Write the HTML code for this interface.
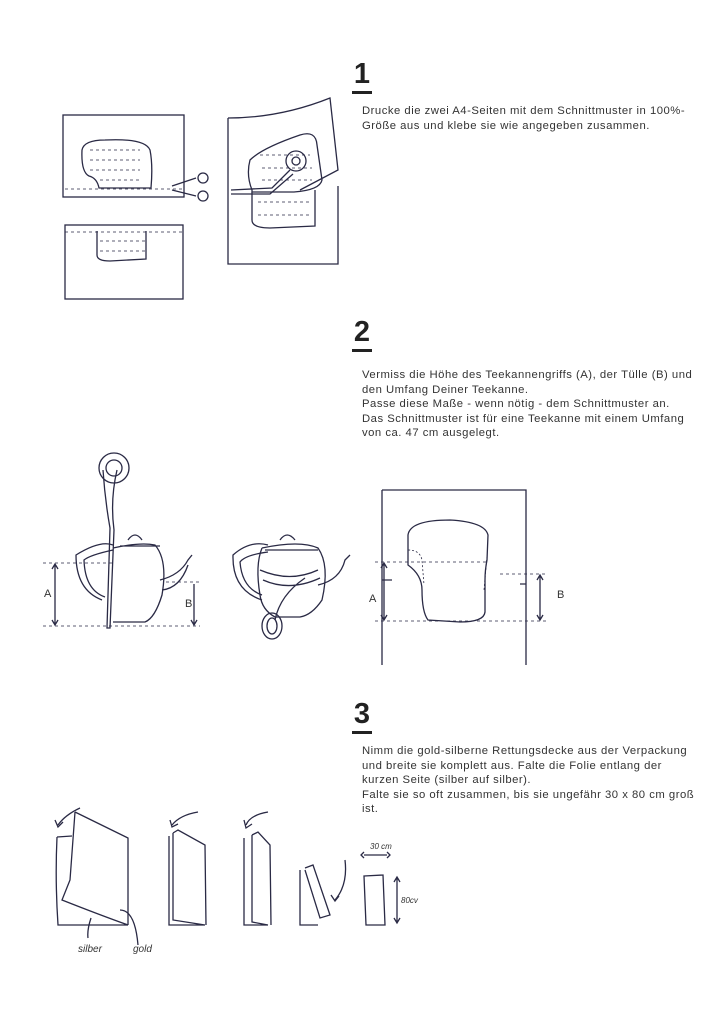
<!DOCTYPE html>
<html><head><meta charset="utf-8"><style>
body{margin:0;background:#fff;width:724px;height:1024px;position:relative;overflow:hidden;font-family:"Liberation Sans",sans-serif;color:#222}
.h{position:absolute;font-weight:bold;font-size:29px;line-height:29px;border-bottom:3px solid #222;padding-bottom:2px;width:20px;text-align:center}
.t{position:absolute;left:362px;font-size:11.3px;line-height:14.5px;width:360px;color:#333;letter-spacing:0.5px;white-space:nowrap}
svg{position:absolute;left:0;top:0}
</style></head><body>
<div class="h" style="left:352px;top:60px">1</div>
<div class="t" style="top:104px">Drucke die zwei A4-Seiten mit dem Schnittmuster in 100%-<br>Größe aus und klebe sie wie angegeben zusammen.</div>
<div class="h" style="left:352px;top:318px">2</div>
<div class="t" style="top:368px">Vermiss die Höhe des Teekannengriffs (A), der Tülle (B) und<br>den Umfang Deiner Teekanne.<br>Passe diese Maße - wenn nötig - dem Schnittmuster an.<br>Das Schnittmuster ist für eine Teekanne mit einem Umfang<br>von ca. 47 cm ausgelegt.</div>
<div class="h" style="left:352px;top:700px">3</div>
<div class="t" style="top:744px">Nimm die gold-silberne Rettungsdecke aus der Verpackung<br>und breite sie komplett aus.  Falte die Folie entlang der<br>kurzen Seite (silber auf silber).<br>Falte sie so oft zusammen, bis sie ungefähr 30 x 80 cm groß<br>ist.</div>
<svg width="724" height="1024" fill="none" stroke="#2a2a45" stroke-width="1.3" font-family="Liberation Sans, sans-serif">
<!-- section 1 -->
<rect x="63" y="115" width="121" height="82"/>
<path d="M89 176 Q81 172 82 150 Q84 140 105 140 Q145 138 150 150 Q153 165 151 188 L99 188 Q97 178 89 176Z"/>
<g stroke-dasharray="3,3" stroke-width="0.8"><path d="M90 150H140M90 160H140M90 170H140M100 180H140M65 189H184"/></g>
<path d="M172 186 L196 178 M172 190 L196 196"/><circle cx="203" cy="178" r="5"/><circle cx="203" cy="196" r="5"/>
<rect x="65" y="225" width="118" height="74"/>
<path d="M97 231 V255 Q97 261 110 261 L146 259 V231"/>
<g stroke-dasharray="3,3" stroke-width="0.8"><path d="M65 232H183M100 241H145M100 251H145"/></g>
<path d="M228 118 Q280 118 330 98 L338 170 L300 190 M228 118 V264 H338 V186"/>
<path d="M252 190 Q246 175 250 160 Q262 148 300 135 Q316 130 317 145 L322 180 Q320 190 294 192 L252 192Z"/>
<path d="M252 192 V220 Q252 228 270 228 L315 226 V190"/>
<circle cx="296" cy="161" r="10"/><circle cx="296" cy="161" r="4"/>
<path d="M231 190 L272 188 L290 170 M231 194 L270 194 L293 174"/>
<g stroke-dasharray="3,3" stroke-width="0.8"><path d="M260 155H310M262 168H312M262 180H312M258 202H312M258 215H312"/></g>
<!-- section 2 teapot 1 -->
<path d="M103 470 Q105 500 110 528 L107 628 L110 628 L114 530 Q110 500 117 470"/>
<circle cx="114" cy="468" r="15"/><circle cx="114" cy="468" r="8"/>
<path d="M113 545 Q100 540 76 555 Q76 590 102 600 M113 550 Q90 555 84 560 Q85 590 105 597"/>
<path d="M113 548 Q140 542 155 545 Q168 560 162 595 Q155 618 145 622 L113 622 M120 546 L160 546 M128 540 Q135 530 142 540"/>
<path d="M160 580 Q180 575 188 560 L192 555 M162 590 Q180 588 188 565"/>
<path d="M43 563 H113 M43 626 H200 M166 582 H200" stroke-dasharray="3,3" stroke-width="0.8"/>
<path d="M55 565 V624 M52 569 L55 564 L58 569 M52 620 L55 625 L58 620 M194 584 V624 M191 620 L194 625 L197 620"/>
<text x="44" y="597" font-size="11" fill="#333" stroke="none">A</text>
<text x="185" y="607" font-size="11" fill="#333" stroke="none">B</text>
<!-- teapot 2 -->
<path d="M268 545 Q250 540 233 555 Q232 590 262 600 M268 552 Q245 555 240 562 Q242 588 262 595"/>
<path d="M262 548 Q300 540 318 548 Q330 565 322 600 Q312 615 300 617 L275 617 Q262 610 260 595 Q255 565 262 548 M280 540 Q287 530 295 540 M265 550 H318"/>
<path d="M318 585 Q340 580 345 560 L350 555"/>
<path d="M260 570 Q290 583 318 570 M263 580 Q290 592 320 578 M305 578 Q280 595 275 620"/>
<ellipse cx="272" cy="626" rx="10" ry="13"/><ellipse cx="272" cy="626" rx="5" ry="8"/>
<!-- pattern sheet -->
<path d="M382 490 H526 V665 M382 490 V665"/>
<path d="M408 535 Q410 520 450 520 Q485 522 488 535 L487 560 Q485 570 485 580 L485 612 Q484 622 460 622 L428 620 Q422 612 422 590 Q422 575 408 565Z"/>
<path d="M408 550 Q420 550 422 560 L424 585 M487 556 L484 590" stroke-dasharray="2,2" stroke-width="0.8"/>
<path d="M375 562 H488 M500 574 H548 M375 621 H548" stroke-dasharray="3,3" stroke-width="0.8"/>
<path d="M382 580 H392 M526 584 H520"/>
<path d="M384 564 V619 M381 568 L384 563 L387 568 M381 615 L384 620 L387 615 M540 576 V619 M537 580 L540 575 L543 580 M537 615 L540 620 L543 615"/>
<text x="369" y="602" font-size="11" fill="#333" stroke="none">A</text>
<text x="557" y="598" font-size="11" fill="#333" stroke="none">B</text>
<!-- section 3 -->
<path d="M57 837 L72 836 M57 837 Q55 880 58 925 L128 925 M75 812 L128 838 V925 M75 812 L70 880 L62 900 Q100 915 128 925"/>
<path d="M80 808 Q65 815 58 825 M55 820 L58 827 L63 822"/>
<path d="M91 918 Q87 930 88 938 M120 910 Q135 910 138 945"/>
<text x="78" y="952" font-size="10" font-style="italic" fill="#333" stroke="none">silber</text>
<text x="133" y="952" font-size="10" font-style="italic" fill="#333" stroke="none">gold</text>
<path d="M169 836 L169 925 L205 925 M173 833 L178 830 L205 845 L206 925 M173 833 V920 L205 925"/>
<path d="M198 812 Q180 815 172 825 M170 820 L172 827 L178 824"/>
<path d="M244 838 V925 L268 925 M252 835 L258 832 L270 845 L271 925 M252 835 V922 L268 925"/>
<path d="M268 812 Q250 815 246 825 M244 820 L246 828 L252 824"/>
<path d="M300 870 V925 H318 M305 868 L313 865 L330 915 L320 918 L305 870"/>
<path d="M345 860 Q348 885 335 900 M331 895 L335 901 L339 896"/>
<path d="M364 876 L383 875 L385 925 L366 925Z M364 876 L366 925"/>
<path d="M364 855 H387 M364 852 L361 855 L364 858 M387 852 L390 855 L387 858 M397 878 V922 M394 882 L397 877 L400 882 M394 918 L397 923 L400 918"/>
<text x="370" y="849" font-size="8" font-style="italic" fill="#333" stroke="none">30 cm</text>
<text x="401" y="903" font-size="8" font-style="italic" fill="#333" stroke="none">80cv</text>
</svg>
</body></html>
